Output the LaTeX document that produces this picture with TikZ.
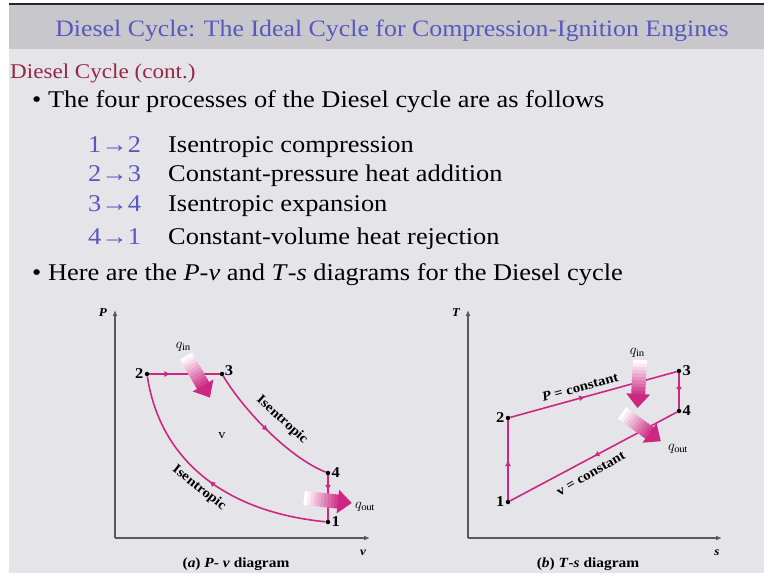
\documentclass[tikz,border=0pt]{standalone}
\usepackage{fontspec}
\setmainfont{Liberation Serif}[FakeStretch=1.1]
\usetikzlibrary{arrows.meta,positioning,decorations.markings}

\definecolor{mag}{RGB}{204,40,130}
\definecolor{titleblue}{RGB}{88,88,190}
\definecolor{subred}{RGB}{150,40,70}
\definecolor{bandgray}{RGB}{200,200,204}
\definecolor{bodygray}{RGB}{229,229,233}

\tikzset{
  pt/.style={circle,fill=black,inner sep=0pt,minimum size=4.5pt},
  proc/.style={draw=mag,line width=1.6pt},
  midarrow/.style={postaction={decorate},decoration={markings,
      mark=at position #1 with {\arrow{Latex[length=6pt,width=6pt]}}}},
  axis/.style={draw=black!65,line width=1.6pt,-{Latex[length=6pt,width=5pt]}},
  lbl/.style={inner sep=1pt,font=\fontsize{13.5}{13.5}\selectfont\bfseries},
  numlbl/.style={inner sep=1pt,font=\fontsize{15}{15}\selectfont\bfseries},
  axlbl/.style={inner sep=1pt,font=\fontsize{12}{12}\selectfont\bfseries\itshape},
  body/.style={anchor=base west,inner sep=0pt,font=\fontsize{24}{24}\selectfont}
}

% broad fading arrow for heat: start x, start y, angle, length
\newcommand{\heatarrow}[4]{%
  \begin{scope}[shift={(#1,#2)},rotate=#3]
    \foreach \i in {0,...,9}
      \fill[mag!\i0!white] ({\i*(#4-14)/10},-7) -- ({(\i+1)*(#4-14)/10+0.6},-7)
        -- ({(\i+1)*(#4-14)/10+0.6},7) -- ({\i*(#4-14)/10},7) -- cycle;
    \fill[mag] (#4-14,-12) -- (#4,0) -- (#4-14,12) -- cycle;
  \end{scope}}

\begin{document}
\begin{tikzpicture}[x=1pt,y=-1pt]
\useasboundingbox (0,0) rectangle (764,576);
% slide background
\fill[white] (0,0) rectangle (764,576);
\fill[bodygray] (9,5) rectangle (764,573);
\fill[bandgray] (9,5) rectangle (764,49);
\draw[black!85,line width=2.5pt] (9,4) -- (764,4);

% text
\node[anchor=base,inner sep=0pt,text=titleblue,font=\fontsize{23.5}{23.5}\selectfont] (title) at (392,36)
  {Diesel Cycle: The Ideal Cycle for Compression-Ignition Engines};
\node[anchor=base west,inner sep=0pt,text=subred,font=\fontsize{21}{21}\selectfont] (sub) at (10,78)
  {Diesel Cycle (cont.)};
\node[body] (b1) at (32,107) {\textbullet\ The four processes of the Diesel cycle are as follows};
\node[body,text=titleblue] (n12) at (88,152) {1→2};
\node[body,text=titleblue] (n23) at (88,181) {2→3};
\node[body,text=titleblue] (n34) at (88,211) {3→4};
\node[body,text=titleblue] (n41) at (88,244) {4→1};
\node[body] (t12) at (168,152) {Isentropic compression};
\node[body] (t23) at (168,181) {Constant-pressure heat addition};
\node[body] (t34) at (168,211) {Isentropic expansion};
\node[body] (t41) at (168,244) {Constant-volume heat rejection};
\node[body] (b2) at (32,280) {\textbullet\ Here are the \textit{P}-\textit{v} and \textit{T}-\textit{s} diagrams for the Diesel cycle};

% (a) P-v diagram
\coordinate (po) at (115,538);
\coordinate (ptop) at (115,310);
\coordinate (pright) at (370,538);
\draw[axis] (po) -- (ptop);
\draw[axis] (po) -- (pright);
\node[axlbl] (plab) at (103,313) {P};
\node[axlbl] (vlab) at (363,553) {v};

\node[pt] (a1) at (328,522) {};
\node[pt] (a2) at (147,374) {};
\node[pt] (a3) at (222,374) {};
\node[pt] (a4) at (328,473) {};
\node[numlbl,left=0pt of a2] (la2) {2};
\node[numlbl,above right=-5pt and 0pt of a3] (la3) {3};
\node[numlbl,right=0pt of a4] (la4) {4};
\node[numlbl,right=0pt of a1] (la1) {1};

\draw[proc,midarrow=0.3] (a2) -- (a3);
\draw[proc,midarrow=0.5] (a3) .. controls (245,412) and (290,458) .. (a4);
\draw[proc,midarrow=0.35] (a4) -- (a1);
\draw[proc,midarrow=0.5] (a1) .. controls (225,512) and (160,460) .. (a2);

\node[lbl,rotate=-42] (isena) at (282,420) {Isentropic};
\node[lbl,rotate=-38] (isenb) at (199,488) {Isentropic};
\node[lbl,font=\fontsize{13}{13}\selectfont] (vin) at (222,436) {v};
\heatarrow{186}{356}{-60}{48}
\node[lbl,font=\fontsize{14}{14}\selectfont] (qina) at (183,347) {$q_{\mathrm{in}}$};
\heatarrow{304}{498}{-6}{48}
\node[lbl,anchor=west,font=\fontsize{14}{14}\selectfont] (qouta) at (354,507) {$q_{\mathrm{out}}$};
\node[lbl,font=\fontsize{14}{14}\selectfont\bfseries] (capa) at (236,564)
  {(\textit{a}) \textit{P}- \textit{v} diagram};

% (b) T-s diagram
\coordinate (to) at (468,538);
\coordinate (ttop) at (468,310);
\coordinate (tright) at (722,538);
\draw[axis] (to) -- (ttop);
\draw[axis] (to) -- (tright);
\node[axlbl] (tlab) at (456,313) {T};
\node[axlbl] (slab) at (717,553) {s};

\node[pt] (b1p) at (508,502) {};
\node[pt] (b2p) at (508,418) {};
\node[pt] (b3p) at (679,371) {};
\node[pt] (b4p) at (679,411) {};
\node[numlbl,left=0pt of b1p] (lb1) {1};
\node[numlbl,left=0pt of b2p] (lb2) {2};
\node[numlbl,right=0pt of b3p] (lb3) {3};
\node[numlbl,right=0pt of b4p] (lb4) {4};

\draw[proc,midarrow=0.5] (b1p) -- (b2p);
\draw[proc,midarrow=0.45] (b2p) -- (b3p);
\draw[proc,midarrow=0.55] (b3p) -- (b4p);
\draw[proc,midarrow=0.5] (b4p) -- (b1p);

\node[lbl,rotate=15.5] (pconst) at (580,387) {\textit{P} = constant};
\node[lbl,rotate=30] (vconst) at (591,474) {v = constant};
\heatarrow{640}{360}{-93}{48}
\node[lbl,font=\fontsize{14}{14}\selectfont] (qinb) at (637,353) {$q_{\mathrm{in}}$};
\heatarrow{622}{413}{-36}{48}
\node[lbl,anchor=west,font=\fontsize{14}{14}\selectfont] (qoutb) at (667,449) {$q_{\mathrm{out}}$};
\node[lbl,font=\fontsize{14}{14}\selectfont\bfseries] (capb) at (588,564)
  {(\textit{b}) \textit{T}-\textit{s} diagram};
\end{tikzpicture}
\end{document}
